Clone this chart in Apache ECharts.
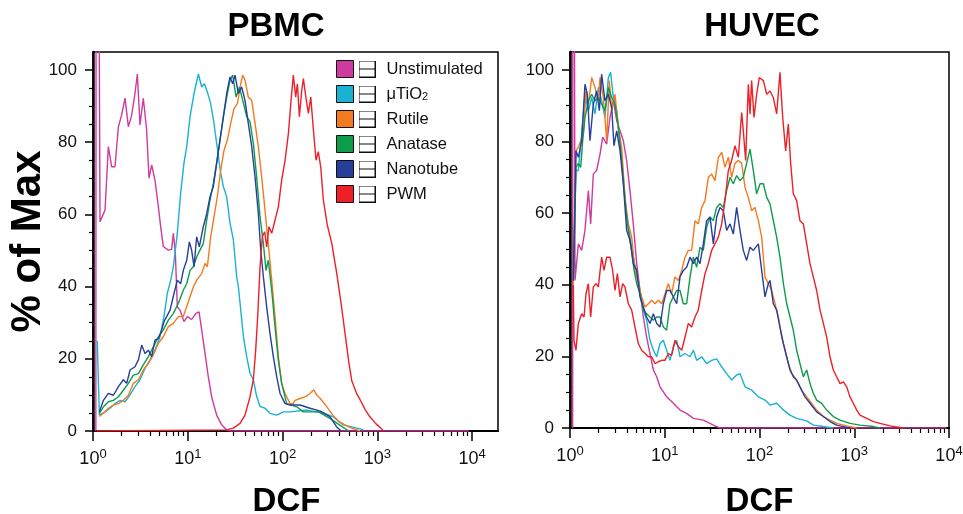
<!DOCTYPE html>
<html>
<head>
<meta charset="utf-8">
<script src="https://cdn.jsdelivr.net/npm/echarts@6/dist/echarts.min.js"></script>
<style>
  html, body { margin: 0; padding: 0; background: #fff; }
  #main { width: 963px; height: 514px; }
</style>
</head>
<body>
<div id="main"></div>
<script>
// x values are log10(DCF), y values are % of Max
var seriesNames = ['Unstimulated', 'μTiO2', 'Rutile', 'Anatase', 'Nanotube', 'PWM'];
var seriesColors = ['#cf3a9f', '#19b2d2', '#f47a20', '#0c9c4b', '#283f99', '#ee1f26'];
var decadeLabels = [0, 1, 2, 3, 4];
var pctLabels = [0, 20, 40, 60, 80, 100];

var pbmcUnstim = [[0.03,0],[0.036,300],[0.074,58],[0.127,61.2],[0.162,78.8],[0.197,73.2],[0.232,73.2],[0.268,84.3],[0.302,87.5],[0.338,92.2],[0.373,84.3],[0.408,87.5],[0.443,93.5],[0.468,98.9],[0.496,84.8],[0.531,92.2],[0.566,83.4],[0.591,70.0],[0.619,73.7],[0.654,69.5],[0.690,62.1],[0.714,56.6],[0.742,51.1],[0.795,50.1],[0.830,50.3],[0.848,54.8],[0.869,49.2],[0.890,34.4],[0.918,33.5],[0.960,30.3],[0.996,31.7],[1.041,30.9],[1.087,32.6],[1.119,33.0],[1.147,28.0],[1.182,21.5],[1.217,15.0],[1.252,9.5],[1.305,4.4],[1.358,1.7],[1.411,0.3],[1.45,0],[3.97,0]];
var pbmcTiO2 = [[0.045,25],[0.067,4.4],[0.127,5.3],[0.180,6.3],[0.232,7.6],[0.285,8.5],[0.338,8.1],[0.391,10.0],[0.443,12.3],[0.496,14.2],[0.549,17.4],[0.602,19.7],[0.654,22.4],[0.707,26.1],[0.749,31.7],[0.784,38.1],[0.820,41.8],[0.848,45.5],[0.890,54.8],[0.925,65.9],[0.960,74.2],[0.989,78.8],[1.024,87.1],[1.066,93.5],[1.112,98.9],[1.147,95.3],[1.175,96.2],[1.207,93.9],[1.242,90.7],[1.277,85.2],[1.305,79.7],[1.348,71.4],[1.376,67.7],[1.411,64.9],[1.446,57.6],[1.481,53.0],[1.516,42.8],[1.534,40.0],[1.552,35.4],[1.587,26.2],[1.622,20.6],[1.657,16.0],[1.692,14.2],[1.727,9.6],[1.763,6.8],[1.815,6.3],[1.868,4.9],[1.939,4.4],[2.009,5.3],[2.079,5.3],[2.255,5.8],[2.36,5.3],[2.43,5.0],[2.53,4.0],[2.64,1.7],[2.82,0.6],[2.85,0.3]];
var pbmcRutile = [[0.067,4.0],[0.11,4.9],[0.162,6.3],[0.215,7.2],[0.268,7.6],[0.320,8.5],[0.373,9.9],[0.426,13.2],[0.479,14.2],[0.531,16.9],[0.584,18.7],[0.637,21.1],[0.690,24.3],[0.742,26.1],[0.795,28.9],[0.848,29.8],[0.901,31.7],[0.953,31.7],[0.989,34.4],[1.024,37.2],[1.059,39.9],[1.094,41.8],[1.147,43.6],[1.182,46.4],[1.207,45.5],[1.242,53.8],[1.277,59.3],[1.312,64.9],[1.348,72.3],[1.383,77.8],[1.418,80.6],[1.453,85.2],[1.488,89.3],[1.524,90.7],[1.559,96.2],[1.580,98.6],[1.604,97.2],[1.639,92.5],[1.675,91.6],[1.710,85.2],[1.745,78.8],[1.780,70.4],[1.815,61.2],[1.850,51.9],[1.886,41.8],[1.921,31.7],[1.956,20.6],[1.991,13.2],[2.027,10.4],[2.079,7.6],[2.11,7.5],[2.132,8.5],[2.185,9.0],[2.25,9.6],[2.29,10.4],[2.33,11.4],[2.36,10.0],[2.40,9.0],[2.47,6.6],[2.53,4.4],[2.60,2.5],[2.71,1.0],[2.82,0]];
var pbmcAnatase = [[0.067,4.9],[0.11,6.7],[0.162,8.1],[0.215,8.5],[0.268,9.5],[0.320,11.3],[0.373,13.2],[0.426,15.5],[0.479,15.9],[0.531,18.3],[0.584,20.6],[0.637,23.3],[0.690,26.1],[0.742,28.0],[0.795,30.7],[0.848,32.6],[0.901,35.4],[0.953,39.0],[0.989,40.8],[1.024,44.5],[1.059,45.5],[1.094,48.2],[1.129,50.1],[1.164,51.9],[1.200,58.4],[1.235,64.0],[1.270,68.6],[1.305,74.2],[1.340,80.6],[1.376,87.1],[1.411,92.5],[1.446,97.2],[1.474,98.6],[1.510,92.5],[1.545,95.3],[1.580,91.6],[1.622,87.1],[1.657,85.7],[1.692,79.7],[1.727,70.4],[1.763,59.3],[1.798,51.9],[1.826,44.5],[1.850,47.3],[1.886,39.0],[1.921,28.8],[1.956,19.6],[1.991,13.2],[2.044,7.6],[2.150,6.7],[2.22,5.3],[2.38,5.3],[2.50,3.5],[2.60,1.7],[2.70,0]];
var pbmcNanotube = [[0.067,5.3],[0.11,8.5],[0.162,10.4],[0.215,9.9],[0.268,12.3],[0.320,14.2],[0.356,13.2],[0.391,16.9],[0.443,17.8],[0.479,19.7],[0.514,23.8],[0.549,21.5],[0.584,22.4],[0.619,20.6],[0.654,25.2],[0.690,25.6],[0.725,28.0],[0.749,30.3],[0.778,31.7],[0.813,33.5],[0.855,38.1],[0.890,41.8],[0.925,40.8],[0.953,44.5],[0.989,47.3],[1.017,52.4],[1.041,50.1],[1.066,45.5],[1.094,53.8],[1.122,51.0],[1.164,56.6],[1.200,60.2],[1.235,64.9],[1.270,67.7],[1.305,74.2],[1.340,80.6],[1.376,87.1],[1.411,93.5],[1.446,98.1],[1.474,96.2],[1.499,98.6],[1.534,93.5],[1.569,95.3],[1.604,91.6],[1.639,85.2],[1.675,78.8],[1.710,70.4],[1.745,60.2],[1.770,50.1],[1.798,42.7],[1.833,34.4],[1.868,27.0],[1.903,20.6],[1.939,15.0],[1.974,10.4],[2.027,7.6],[2.079,7.2],[2.185,7.2],[2.290,6.3],[2.40,5.5],[2.50,4.0],[2.57,1.2],[2.62,0]];
var pbmcPWM = [[0.04,0],[1.411,0.3],[1.481,0.8],[1.552,2.1],[1.604,4.4],[1.657,9.5],[1.692,14.2],[1.717,22.4],[1.738,31.7],[1.763,45.5],[1.787,53.8],[1.812,55.2],[1.833,51.0],[1.857,56.6],[1.886,54.8],[1.921,58.4],[1.956,62.1],[1.991,69.5],[2.027,75.0],[2.062,82.4],[2.090,91.6],[2.114,98.6],[2.139,92.5],[2.157,96.2],[2.178,87.1],[2.203,94.4],[2.220,97.6],[2.248,92.2],[2.273,88.0],[2.298,92.5],[2.326,83.4],[2.354,75.0],[2.378,77.4],[2.403,73.2],[2.431,64.0],[2.473,57],[2.52,52],[2.57,44],[2.62,35],[2.66,27],[2.70,19],[2.73,14],[2.78,10.5],[2.82,8.6],[2.87,6],[2.92,4.0],[2.99,1.9],[3.06,0.3]];

var huvecUnstim = [[0.028,0],[0.032,300],[0.053,41.2],[0.088,51.4],[0.123,49.6],[0.158,55.2],[0.194,66.3],[0.218,57.0],[0.246,70.9],[0.281,71.9],[0.317,76.5],[0.345,81.2],[0.387,79.3],[0.422,86.7],[0.457,91.4],[0.493,85.8],[0.528,83.0],[0.563,80.2],[0.598,74.7],[0.633,66.3],[0.668,57.0],[0.704,45.9],[0.739,38.4],[0.774,31.0],[0.809,25.4],[0.844,20.8],[0.880,16.2],[0.915,14.3],[0.950,11.5],[1.020,8.7],[1.091,6.9],[1.161,5.0],[1.231,4.1],[1.302,2.7],[1.407,2.2],[1.513,0.8],[1.583,0],[3.975,0]];
var huvecTiO2 = [[0.035,41.2],[0.063,71.9],[0.088,71.9],[0.123,82.1],[0.158,93.2],[0.194,88.6],[0.229,92.3],[0.264,87.7],[0.299,95.1],[0.334,91.4],[0.369,86.7],[0.405,97.9],[0.429,99.3],[0.457,92.3],[0.493,88.6],[0.528,80.2],[0.563,70.0],[0.598,58.9],[0.633,53.3],[0.668,47.7],[0.704,43.1],[0.739,38.4],[0.774,32.9],[0.809,30.1],[0.844,24.5],[0.880,21.7],[0.915,19.9],[0.950,23.6],[0.985,24.5],[1.020,21.7],[1.055,18.9],[1.091,22.7],[1.126,24.5],[1.161,19.9],[1.214,20.8],[1.267,19.9],[1.302,21.7],[1.337,18.9],[1.390,19.9],[1.442,18.0],[1.495,18.9],[1.548,19.3],[1.601,17.1],[1.653,15.2],[1.706,13.4],[1.759,14.8],[1.794,15.2],[1.847,11.5],[1.917,10.6],[1.988,8.7],[2.058,7.8],[2.111,6.4],[2.181,6.9],[2.252,5.0],[2.322,3.6],[2.392,2.7],[2.498,2.0],[2.569,0.8],[2.674,0.4],[2.780,0]];
var huvecRutile = [[0.035,40.3],[0.063,77.4],[0.088,78.4],[0.113,80.2],[0.141,82.1],[0.169,94.1],[0.194,90.4],[0.229,97.9],[0.264,95.1],[0.299,91.4],[0.317,97.9],[0.352,92.3],[0.387,80.2],[0.415,97.0],[0.440,88.6],[0.475,93.2],[0.510,83.9],[0.545,78.4],[0.580,64.4],[0.616,57.0],[0.651,53.3],[0.686,44.0],[0.721,40.3],[0.756,36.6],[0.792,33.8],[0.827,34.7],[0.862,35.7],[0.897,34.7],[0.932,35.7],[0.968,34.7],[1.003,37.5],[1.038,40.3],[1.073,37.5],[1.108,42.2],[1.143,41.2],[1.179,44.0],[1.214,47.7],[1.249,49.6],[1.284,49.6],[1.319,57.9],[1.354,57.0],[1.390,61.6],[1.425,63.5],[1.460,70.0],[1.495,70.9],[1.530,69.1],[1.566,75.6],[1.601,77.0],[1.636,72.8],[1.671,75.6],[1.706,70.0],[1.741,73.9],[1.777,74.7],[1.812,73.9],[1.847,67.2],[1.882,64.4],[1.917,60.7],[1.952,61.6],[1.988,57.9],[2.023,53.3],[2.058,42.2],[2.093,40.3],[2.128,38.4],[2.164,34.7],[2.199,31.0],[2.234,25.4],[2.269,21.7],[2.304,18.0],[2.339,15.4],[2.375,14.0],[2.410,12.4],[2.445,10.6],[2.498,8.7],[2.551,6.9],[2.603,5.0],[2.674,3.2],[2.744,2.2],[2.814,1.3],[2.920,0.6],[3.026,0]];
var huvecAnatase = [[0.035,41.2],[0.063,72.8],[0.088,73.9],[0.113,72.8],[0.134,80.2],[0.158,86.7],[0.194,91.4],[0.229,93.2],[0.264,91.4],[0.299,92.3],[0.334,90.4],[0.369,88.6],[0.405,95.1],[0.440,92.3],[0.475,90.4],[0.510,83.9],[0.545,74.7],[0.580,63.5],[0.616,55.2],[0.651,49.6],[0.676,44.0],[0.704,40.3],[0.739,37.5],[0.774,32.9],[0.809,31.9],[0.844,31.0],[0.880,30.1],[0.915,31.0],[0.950,31.0],[0.985,28.2],[1.020,27.3],[1.055,34.7],[1.091,36.6],[1.126,38.4],[1.161,38.4],[1.196,34.7],[1.231,34.7],[1.267,42.2],[1.302,47.7],[1.337,44.9],[1.372,50.5],[1.407,49.6],[1.442,56.1],[1.478,58.9],[1.513,57.9],[1.548,61.6],[1.583,62.6],[1.618,61.6],[1.653,66.3],[1.689,70.0],[1.724,68.2],[1.759,70.5],[1.794,69.1],[1.829,70.0],[1.864,73.9],[1.900,77.9],[1.935,71.9],[1.970,65.4],[2.006,68.2],[2.041,68.2],[2.076,64.4],[2.111,62.6],[2.146,57.9],[2.181,53.3],[2.216,47.7],[2.252,40.3],[2.287,34.7],[2.322,31.0],[2.357,27.3],[2.392,21.7],[2.427,18.0],[2.463,14.3],[2.498,16.2],[2.533,12.4],[2.568,9.7],[2.603,7.8],[2.656,6.9],[2.709,5.0],[2.779,3.2],[2.850,2.2],[2.955,1.3],[3.061,0.8],[3.202,0.4],[3.272,0]];
var huvecNanotube = [[0.035,41.2],[0.063,77.4],[0.088,75.6],[0.123,80.2],[0.158,96.0],[0.183,93.2],[0.211,80.2],[0.246,90.4],[0.281,94.1],[0.310,88.6],[0.334,98.8],[0.369,91.4],[0.405,93.2],[0.440,89.5],[0.464,78.8],[0.493,83.0],[0.528,77.4],[0.563,68.2],[0.598,55.2],[0.633,52.4],[0.668,45.9],[0.704,44.0],[0.739,36.6],[0.774,33.8],[0.809,31.0],[0.844,29.2],[0.880,31.9],[0.915,29.2],[0.950,28.2],[0.985,34.7],[1.020,38.4],[1.055,38.4],[1.091,36.6],[1.126,34.7],[1.161,42.2],[1.196,44.0],[1.231,44.9],[1.267,47.7],[1.302,45.9],[1.337,47.7],[1.372,45.9],[1.407,51.4],[1.442,57.9],[1.478,58.9],[1.513,51.4],[1.548,58.9],[1.583,61.6],[1.618,60.7],[1.653,55.2],[1.689,57.0],[1.724,54.2],[1.759,61.6],[1.794,55.2],[1.829,49.6],[1.864,46.8],[1.900,50.5],[1.935,49.6],[1.988,51.4],[2.023,44.0],[2.058,36.6],[2.093,40.3],[2.111,41.2],[2.146,34.7],[2.181,32.9],[2.216,28.2],[2.252,23.6],[2.287,19.9],[2.322,16.2],[2.357,14.3],[2.392,13.4],[2.427,11.5],[2.480,8.7],[2.533,6.9],[2.603,4.5],[2.674,3.2],[2.744,1.8],[2.814,0.8],[2.885,0.4],[2.955,0]];
var huvecPWM = [[0.035,40],[0.042,24.5],[0.063,21.7],[0.088,29.2],[0.123,31.9],[0.148,31.0],[0.169,37.5],[0.194,40.3],[0.218,31.0],[0.246,39.4],[0.275,40.3],[0.299,39.4],[0.334,47.7],[0.359,44.0],[0.387,47.7],[0.422,47.7],[0.450,44.0],[0.475,38.4],[0.500,43.1],[0.528,36.6],[0.556,40.3],[0.580,39.4],[0.616,34.7],[0.651,32.9],[0.686,28.2],[0.721,23.6],[0.756,21.7],[0.792,20.8],[0.827,19.9],[0.862,19.9],[0.897,18.0],[0.932,18.5],[0.968,18.9],[1.003,18.9],[1.038,20.8],[1.073,20.3],[1.108,24.5],[1.143,22.7],[1.179,21.7],[1.214,25.4],[1.249,29.2],[1.284,28.2],[1.319,31.0],[1.354,32.9],[1.390,38.4],[1.425,43.1],[1.460,45.9],[1.495,49.6],[1.530,51.4],[1.566,53.3],[1.601,57.0],[1.636,63.5],[1.671,71.9],[1.706,74.7],[1.741,78.8],[1.777,75.6],[1.812,88.1],[1.829,83.0],[1.854,74.7],[1.882,96.0],[1.900,87.7],[1.917,97.0],[1.942,86.7],[1.970,93.2],[1.998,97.9],[2.041,97.0],[2.076,93.2],[2.111,94.1],[2.146,92.3],[2.181,87.7],[2.199,87.2],[2.216,99.3],[2.245,86.7],[2.276,77.4],[2.304,84.9],[2.329,73.9],[2.357,65.4],[2.392,63.5],[2.427,57.9],[2.463,57.0],[2.498,51.4],[2.533,45.9],[2.568,42.2],[2.603,38.4],[2.639,32.9],[2.674,29.2],[2.709,25.4],[2.744,19.9],[2.779,16.2],[2.814,14.3],[2.850,12.4],[2.885,12.9],[2.920,11.5],[2.955,8.7],[2.990,6.9],[3.026,5.0],[3.061,3.6],[3.131,2.7],[3.202,1.8],[3.272,1.3],[3.378,0.6],[3.518,0]];

var pbmcData = [pbmcUnstim, pbmcTiO2, pbmcRutile, pbmcAnatase, pbmcNanotube, pbmcPWM];
var huvecData = [huvecUnstim, huvecTiO2, huvecRutile, huvecAnatase, huvecNanotube, huvecPWM];

// minor tick positions: 2..9 inside each decade, and every 5 % on y
var minorX = [];
for (var d = 0; d < 4; d++) {
    for (var m = 2; m <= 9; m++) minorX.push(d + Math.log10(m));
}
var minorY = [];
for (var p = 5; p < 105; p += 5) {
    if (p % 20 !== 0) minorY.push(p);
}

var chart = echarts.init(document.getElementById('main'));
var font = 'Liberation Sans, Arial, sans-serif';

// white box with a bar, the overlay marker shown next to each swatch
var ov = document.createElement('canvas');
ov.width = 17; ov.height = 17;
var c = ov.getContext('2d');
c.fillStyle = '#fff';
c.fillRect(0, 0, 17, 17);
c.strokeStyle = '#111';
c.lineWidth = 1;
c.strokeRect(0.5, 0.5, 16, 16);
c.beginPath();
c.moveTo(0, 8.5);
c.lineTo(17, 8.5);
c.stroke();

var pbmcMax = 4.274;

function xMain(grid, max, nameGap, nameStyle) {
    return {
        type: 'value', gridIndex: grid, min: 0, max: max, position: 'bottom',
        name: 'DCF', nameLocation: 'middle', nameGap: nameGap, nameMoveOverlap: false,
        nameTextStyle: nameStyle,
        splitLine: { show: false },
        axisLine: { onZero: false, lineStyle: { color: '#000', width: 2 } },
        axisTick: { customValues: decadeLabels, length: 10, lineStyle: { color: '#000', width: 1.5 } },
        axisLabel: {
            customValues: decadeLabels, margin: 17,
            formatter: function (v) { return '{m|10}{s|' + Math.round(v) + '}'; },
            rich: {
                m: { fontSize: 18, lineHeight: 22, color: '#111', fontFamily: font },
                s: { fontSize: 13, lineHeight: 13, color: '#111', fontFamily: font, verticalAlign: 'top' }
            }
        }
    };
}
function xMinor(grid, max) {
    return {
        type: 'value', gridIndex: grid, min: 0, max: max, position: 'bottom',
        splitLine: { show: false },
        axisLine: { show: false, onZero: false },
        axisLabel: { show: false },
        axisTick: { customValues: minorX, length: 5, lineStyle: { color: '#000', width: 1.2 } }
    };
}
function yMain(grid, name) {
    return {
        type: 'value', gridIndex: grid, min: 0, max: 105, position: 'left',
        name: name, nameLocation: 'middle', nameGap: 44, nameMoveOverlap: false,
        nameTextStyle: { fontSize: 42, fontWeight: 'bold', color: '#000', fontFamily: font },
        splitLine: { show: false },
        axisLine: { onZero: false, lineStyle: { color: '#000', width: 2.5 } },
        axisTick: { customValues: pctLabels, length: 8, lineStyle: { color: '#000', width: 1.5 } },
        axisLabel: { customValues: pctLabels, margin: 16, fontSize: 17, color: '#111', fontFamily: font }
    };
}
function yMinor(grid) {
    return {
        type: 'value', gridIndex: grid, min: 0, max: 105, position: 'left',
        splitLine: { show: false },
        axisLine: { show: false, onZero: false },
        axisLabel: { show: false },
        axisTick: { customValues: minorY, length: 4, lineStyle: { color: '#000', width: 1.2 } }
    };
}

var series = [];
function addPanel(data, xIdx, yIdx) {
    data.forEach(function (pts, i) {
        series.push({
            name: seriesNames[i],
            type: 'line',
            xAxisIndex: xIdx,
            yAxisIndex: yIdx,
            data: pts,
            showSymbol: false,
            symbol: 'none',
            clip: true,
            silent: true,
            itemStyle: { color: seriesColors[i] },
            lineStyle: { color: seriesColors[i], width: 1.4 }
        });
    });
}
addPanel(pbmcData, 0, 0);
addPanel(huvecData, 2, 2);

var dcfStyle = { fontSize: 33, fontWeight: 'bold', color: '#000', fontFamily: font };
var titleStyle = { fontSize: 33, fontWeight: 'bold', color: '#000', fontFamily: font };

var option = {
    animation: false,
    textStyle: { fontFamily: font },
    title: [
        { text: 'PBMC', left: 276, top: 10, textAlign: 'center', padding: 0, textStyle: titleStyle },
        { text: 'HUVEC', left: 762, top: 10, textAlign: 'center', padding: 0, textStyle: titleStyle }
    ],
    grid: [
        { left: 93, right: 465, top: 52, bottom: 83, show: true, borderColor: '#000', borderWidth: 1.5,
          outerBoundsMode: 'none', containLabel: false },
        { left: 570, right: 14, top: 52, bottom: 86, show: true, borderColor: '#000', borderWidth: 1.5,
          outerBoundsMode: 'none', containLabel: false }
    ],
    legend: {
        data: seriesNames,
        orient: 'vertical',
        left: 336,
        top: 60,
        padding: 0,
        itemWidth: 17,
        itemHeight: 17,
        itemGap: 7,
        icon: 'rect',
        selectedMode: false,
        itemStyle: { borderColor: '#111', borderWidth: 1 },
        textStyle: {
            fontSize: 16.5, color: '#111', lineHeight: 17, fontFamily: font,
            rich: {
                ov: { width: 17, height: 17, backgroundColor: { image: ov } },
                gap: { width: 11 },
                sub: { fontSize: 11, verticalAlign: 'bottom', lineHeight: 14, fontFamily: font, color: '#111' }
            }
        },
        formatter: function (name) {
            var label = name === 'μTiO2' ? 'μTiO{sub|2}' : name;
            return '{ov|}{gap|}' + label;
        }
    },
    xAxis: [xMain(0, pbmcMax, 54, Object.assign({ padding: [0, 18, 0, 0] }, dcfStyle)), xMinor(0, pbmcMax),
            xMain(1, 4, 57, dcfStyle), xMinor(1, 4)],
    yAxis: [yMain(0, '% of Max'), yMinor(0), yMain(1, ''), yMinor(1)],
    series: series
};

chart.setOption(option);
</script>
</body>
</html>
